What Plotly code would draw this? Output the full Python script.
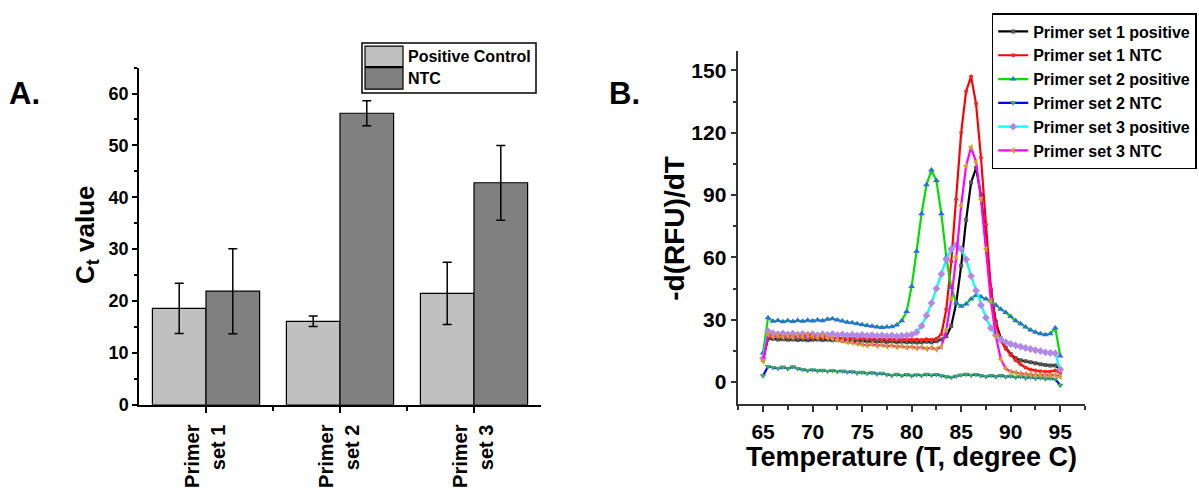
import plotly.graph_objects as go

# ---------------- Panel A: Ct values ----------------
primer_sets = ["Primer<br>set 1", "Primer<br>set 2", "Primer<br>set 3"]
set_pos = [0, 1, 2]
ct_positive = [18.6, 16.1, 21.5]
ct_positive_err = [4.85, 1.0, 6.0]
ct_ntc = [21.9, 56.2, 42.8]
ct_ntc_err = [8.2, 2.4, 7.2]

# ---------------- Panel B: melt curves ----------------
temperature = [65 + 0.5 * i for i in range(61)]

set1_positive = [
    11, 21, 20.8, 20.5, 20.6, 20.3, 20.5, 20.2, 20.4, 20.1,
    20.3, 20.5, 20.2, 20.4, 20.1, 20.3, 19.9, 20.1, 19.8, 19.6,
    19.9, 19.5, 19.7, 19.4, 19.6, 19.3, 19.5, 19.2, 19.4, 19.1,
    19.3, 19.0, 19.2, 19.4, 19.1, 19.6, 20.5, 22, 27, 38,
    56, 78, 96, 103, 90, 68, 44, 29, 21, 16.5,
    13.5, 11.5, 10.5, 10, 9.5, 9, 8.5, 8.2, 8, 8, 6,
]
set1_ntc = [
    10.5, 22, 21.8, 22.1, 21.7, 22.0, 21.6, 21.9, 21.5, 21.8,
    21.4, 21.7, 21.3, 21.5, 21.2, 21.4, 21.0, 21.2, 20.9, 21.1,
    20.8, 21.0, 20.7, 20.9, 20.6, 20.8, 20.5, 20.7, 20.4, 20.6,
    20.3, 20.5, 20.2, 20.6, 20.3, 20.8, 23, 35, 58, 88,
    120, 140, 147, 134, 108, 76, 45, 28, 20, 16,
    13, 10.5, 8.5, 7, 6, 5.5, 5.2, 5, 5, 5.5, 4.5,
]
set2_positive = [
    14, 31, 29.2, 29.6, 29.0, 29.5, 29.1, 29.6, 29.2, 29.7,
    29.4, 29.9, 29.5, 30.2, 30.5, 29.8, 29.4, 28.8, 28.5, 28.0,
    27.6, 27.2, 26.8, 26.5, 26.3, 26.5, 26.6, 27.5, 29.5, 34,
    46, 63, 81, 95, 102, 97, 81, 60, 45.5, 38,
    36.5, 37.5, 40, 41.8, 41, 40, 39, 37, 35, 33.5,
    31.5, 29.5, 28, 26.5, 25, 24, 23.2, 22.8, 23.2, 26, 12.5,
]
set2_ntc = [
    3, 7.5, 7.0, 6.6, 7.2, 6.4, 7.4, 6.5, 6.0, 5.6,
    5.9, 5.4, 5.7, 5.2, 5.6, 5.1, 5.3, 4.8, 5.0, 4.4,
    4.7, 4.2, 4.5, 3.9, 4.2, 3.6, 3.2, 3.8, 3.1, 3.6,
    3.0, 3.5, 3.2, 3.7, 3.3, 3.6, 3.0, 2.6, 2.3, 2.9,
    3.4, 3.7, 3.3, 3.6, 3.0, 2.7, 3.1, 2.6, 3.2, 2.5,
    2.9, 2.3, 2.7, 2.0, 2.4, 1.8, 2.1, 1.6, 1.8, 1.3, -1.5,
]
set3_positive = [
    11.5, 24.5, 23.5, 23.1, 23.4, 22.9, 23.3, 22.8, 23.2, 22.7,
    23.1, 22.6, 23.0, 22.7, 23.1, 22.6, 22.9, 22.5, 22.8, 22.4,
    22.7, 22.3, 22.6, 22.2, 22.5, 22.1, 22.4, 22.0, 22.3, 22.4,
    22.8, 24, 27, 32, 38, 45, 52, 59, 64, 66,
    64, 59, 51, 44, 37, 31, 26, 22.5, 20.5, 19.2,
    18.3, 17.6, 17.0, 16.4, 15.9, 15.3, 14.9, 14.3, 14.0, 13.8, 6,
]
set3_ntc = [
    10, 23, 22.0, 22.4, 21.8, 22.3, 21.7, 22.5, 21.9, 23.0,
    22.1, 21.6, 22.2, 21.4, 21.0, 20.3, 19.8, 19.2, 19.0, 18.4,
    18.1, 17.6, 18.2, 17.5, 17.9, 17.2, 17.6, 16.9, 17.3, 16.6,
    17.0, 16.3, 16.8, 16.0, 16.5, 15.8, 17, 25, 40, 60,
    85, 104, 113, 106, 88, 64, 39, 22, 11, 6.5,
    5, 4.5, 4.0, 3.8, 3.6, 3.4, 3.5, 3.2, 3.3, 3.4, 2.5,
]

melt_series = [
    ("Primer set 1 positive", set1_positive, "#000000", "square", "#555555", 4),
    ("Primer set 1 NTC", set1_ntc, "#ff0000", "circle", "#ff2020", 4),
    ("Primer set 2 positive", set2_positive, "#00e000", "triangle-up", "#2c6fdc", 6),
    ("Primer set 2 NTC", set2_ntc, "#0000ff", "triangle-down", "#3aa86b", 6),
    ("Primer set 3 positive", set3_positive, "#00ffff", "diamond", "#b388e8", 6),
    ("Primer set 3 NTC", set3_ntc, "#ff00ff", "triangle-left", "#d4a020", 6),
]

SANS = "Liberation Sans, Arial, sans-serif"
W, H = 1199, 488


def px(x):
    return x / W


def py(y):
    return (H - y) / H


fig = go.Figure()

fig.add_trace(go.Bar(
    x=set_pos, y=ct_positive, name="Positive Control",
    marker=dict(color="#c0c0c0", line=dict(color="#000000", width=1.2)),
    error_y=dict(type="data", array=ct_positive_err, color="#000000", thickness=1.5, width=4.5),
    xaxis="x", yaxis="y", showlegend=False,
))
fig.add_trace(go.Bar(
    x=set_pos, y=ct_ntc, name="NTC",
    marker=dict(color="#808080", line=dict(color="#000000", width=1.2)),
    error_y=dict(type="data", array=ct_ntc_err, color="#000000", thickness=1.5, width=4.5),
    xaxis="x", yaxis="y", showlegend=False,
))

for name, vals, lcol, sym, mcol, msize in melt_series:
    fig.add_trace(go.Scatter(
        x=temperature, y=vals, name=name, mode="lines+markers",
        line=dict(color=lcol, width=2.2),
        marker=dict(symbol=sym, color=mcol, size=msize, line=dict(width=0)),
        xaxis="x2", yaxis="y2",
    ))

axis_common = dict(showgrid=False, zeroline=False, showline=True, ticks="outside")

fig.update_layout(
    width=W, height=H,
    margin=dict(l=0, r=0, t=0, b=0),
    paper_bgcolor="white", plot_bgcolor="white",
    barmode="group", bargap=0.2, bargroupgap=0,
    xaxis=dict(
        **axis_common, domain=[px(139), px(541)], anchor="y",
        range=[-0.5, 2.5], tickmode="array", tickvals=set_pos, ticktext=primer_sets,
        tickangle=-90, ticklen=6, tickwidth=1.5, tickcolor="#000", linecolor="#000", linewidth=1.5,
        ticklabelstandoff=4,
        tickfont=dict(family=SANS, size=20, color="#000", weight="bold"),
        minor=dict(tickmode="array", tickvals=[0.5, 1.5], ticklen=4, tickwidth=1.5, tickcolor="#000", ticks="outside"),
    ),
    yaxis=dict(
        **axis_common, domain=[py(413.3), py(69)], anchor="x",
        range=[0, 65], tickmode="array", tickvals=[0, 10, 20, 30, 40, 50, 60],
        ticklen=5, tickwidth=1.5, tickcolor="#000", linecolor="#000", linewidth=1.5,
        tickfont=dict(family=SANS, size=18, color="#000", weight="bold"),
        minor=dict(dtick=5, tick0=0, ticklen=3, tickwidth=1.5, tickcolor="#000", ticks="outside"),
    ),
    xaxis2=dict(
        **axis_common, domain=[px(738.3), px(1085)], anchor="y2",
        range=[62.5, 97.5], tickmode="array", tickvals=[65, 70, 75, 80, 85, 90, 95],
        ticklen=6, tickwidth=1.5, tickcolor="#333", linecolor="#333", linewidth=1.5,
        ticklabelstandoff=2,
        tickfont=dict(family=SANS, size=21, color="#000", weight="bold"),
        minor=dict(dtick=2.5, tick0=62.5, ticklen=4, tickwidth=1.5, tickcolor="#333", ticks="outside"),
    ),
    yaxis2=dict(
        **axis_common, domain=[py(412.3), py(51.7)], anchor="x2",
        range=[-10.5, 159.5], tickmode="array", tickvals=[0, 30, 60, 90, 120, 150],
        ticklen=6, tickwidth=1.5, tickcolor="#333", linecolor="#333", linewidth=1.5,
        tickfont=dict(family=SANS, size=21, color="#000", weight="bold"),
        minor=dict(dtick=15, tick0=0, ticklen=4, tickwidth=1.5, tickcolor="#333", ticks="outside"),
    ),
    legend=dict(
        x=px(991.7), y=py(13.3), xanchor="left", yanchor="top",
        bgcolor="white", bordercolor="#000", borderwidth=1.5,
        font=dict(family=SANS, size=16, color="#000", weight="bold"),
        tracegroupgap=0, itemwidth=30,
    ),
    showlegend=True,
)

# Panel A legend box with swatches
fig.add_shape(type="rect", xref="paper", yref="paper",
              x0=px(362), x1=px(536), y0=py(95), y1=py(44),
              line=dict(color="#000", width=1.5), fillcolor="white")
fig.add_shape(type="rect", xref="paper", yref="paper",
              x0=px(365), x1=px(403), y0=py(68), y1=py(47),
              line=dict(color="#000", width=1.2), fillcolor="#c0c0c0")
fig.add_shape(type="rect", xref="paper", yref="paper",
              x0=px(365), x1=px(403), y0=py(91), y1=py(69),
              line=dict(color="#000", width=1.2), fillcolor="#808080")
legend_a_font = dict(family=SANS, size=16, color="#000", weight="bold")
fig.add_annotation(text="Positive Control", xref="paper", yref="paper", x=px(406), y=py(57.5),
                   xanchor="left", yanchor="middle", showarrow=False, font=legend_a_font)
fig.add_annotation(text="NTC", xref="paper", yref="paper", x=px(406), y=py(80),
                   xanchor="left", yanchor="middle", showarrow=False, font=legend_a_font)

# Axis titles and panel letters
fig.add_annotation(text="C<sub>t</sub> value", xref="paper", yref="paper", x=px(86), y=py(240),
                   textangle=-90, showarrow=False, xanchor="center", yanchor="middle",
                   font=dict(family=SANS, size=26, color="#000", weight="bold"))
fig.add_annotation(text="-d(RFU)/dT", xref="paper", yref="paper", x=px(674.5), y=py(233),
                   textangle=-90, showarrow=False, xanchor="center", yanchor="middle",
                   font=dict(family=SANS, size=28, color="#000", weight="bold"))
fig.add_annotation(text="Temperature (T, degree C)", xref="paper", yref="paper", x=px(911), y=py(467),
                   showarrow=False, xanchor="center", yanchor="middle",
                   font=dict(family=SANS, size=27, color="#000", weight="bold"))
fig.add_annotation(text="A.", xref="paper", yref="paper", x=px(25), y=py(95),
                   showarrow=False, xanchor="center", yanchor="middle",
                   font=dict(family=SANS, size=31, color="#000", weight="bold"))
fig.add_annotation(text="B.", xref="paper", yref="paper", x=px(624), y=py(95),
                   showarrow=False, xanchor="center", yanchor="middle",
                   font=dict(family=SANS, size=31, color="#000", weight="bold"))

fig.write_html("out.html")
